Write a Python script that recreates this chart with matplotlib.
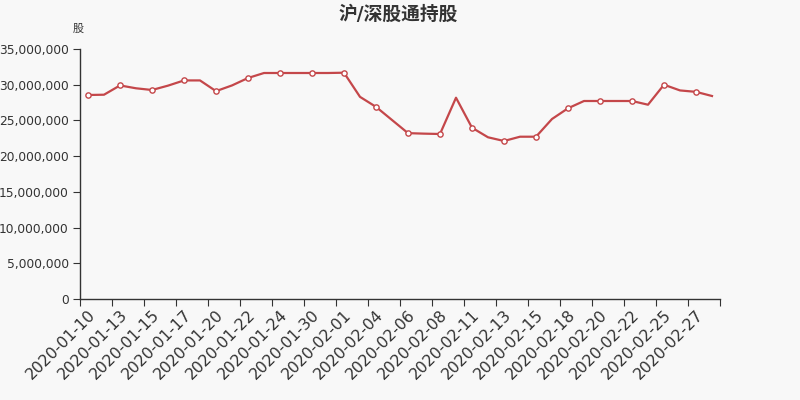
import matplotlib.pyplot as plt
import numpy as np
from matplotlib.ticker import FuncFormatter, FixedLocator

plt.rcParams['font.family'] = ['DejaVu Sans', 'Noto Sans CJK SC']

# trading dates (only every other one is labelled on the chart)
dates = ["2020-01-10", "2020-01-12", "2020-01-13", "2020-01-14", "2020-01-15",
         "2020-01-16", "2020-01-17", "2020-01-19", "2020-01-20", "2020-01-21",
         "2020-01-22", "2020-01-23", "2020-01-24", "2020-01-29", "2020-01-30",
         "2020-01-31", "2020-02-01", "2020-02-03", "2020-02-04", "2020-02-05",
         "2020-02-06", "2020-02-07", "2020-02-08", "2020-02-10", "2020-02-11",
         "2020-02-12", "2020-02-13", "2020-02-14", "2020-02-15", "2020-02-17",
         "2020-02-18", "2020-02-19", "2020-02-20", "2020-02-21", "2020-02-22",
         "2020-02-24", "2020-02-25", "2020-02-26", "2020-02-27", "2020-02-28"]

# holdings in shares
holdings = [28.56e6, 28.60e6, 29.90e6, 29.50e6, 29.26e6, 29.87e6, 30.60e6, 30.60e6,
            29.10e6, 29.90e6, 30.94e6, 31.64e6, 31.64e6, 31.64e6, 31.64e6, 31.64e6,
            31.68e6, 28.30e6, 26.90e6, 25.06e6, 23.22e6, 23.15e6, 23.10e6, 28.18e6,
            23.98e6, 22.64e6, 22.12e6, 22.72e6, 22.72e6, 25.20e6, 26.70e6, 27.72e6,
            27.72e6, 27.72e6, 27.72e6, 27.20e6, 30.00e6, 29.20e6, 29.00e6, 28.42e6]

line_color = '#c4474a'
text_color = '#333333'
bg = '#f8f8f8'

fig = plt.figure(figsize=(8, 4), dpi=100, facecolor=bg)
ax = fig.add_axes([0.1, 0.2525, 0.8, 0.625], facecolor=bg)

x = np.arange(len(dates))
ax.plot(x, holdings, color=line_color, lw=1.6, zorder=3)
ax.plot(x[::2], holdings[::2], 'o', ms=3.8, mfc='white', mec=line_color, mew=1.0, zorder=4)

ax.set_xlim(-0.5, len(dates) - 0.5)
ax.set_ylim(0, 35e6)
ax.set_yticks(np.arange(0, 35e6 + 1, 5e6))
ax.yaxis.set_major_formatter(FuncFormatter(lambda v, p: f"{int(v):,}"))

# ticks on band edges, labels on band centres
ax.xaxis.set_major_locator(FixedLocator(np.arange(-0.5, len(dates), 2)))
ax.xaxis.set_major_formatter(FuncFormatter(lambda v, p: ""))
ax.set_xticks(x[::2], minor=True)
ax.set_xticklabels(dates[::2], minor=True, rotation=45, ha='right', va='top',
                   rotation_mode='anchor', fontsize=11.3, color=text_color)
ax.tick_params(axis='x', which='minor', length=0, pad=6)
ax.tick_params(axis='x', which='major', length=5, color=text_color)
ax.tick_params(axis='y', length=5, color=text_color, labelsize=8.8,
               labelcolor=text_color, pad=3)

for side in ['top', 'right']:
    ax.spines[side].set_visible(False)
for side in ['left', 'bottom']:
    ax.spines[side].set_color(text_color)
    ax.spines[side].set_linewidth(1.0)

fig.text(0.4975, 0.965, "沪/深股通持股", ha='center', va='center', fontsize=13.5,
         fontweight='bold', color=text_color)
fig.text(0.098, 0.927, "股", ha='center', va='center', fontsize=8, color=text_color)

fig.savefig('out.png', dpi=100, facecolor=bg)
